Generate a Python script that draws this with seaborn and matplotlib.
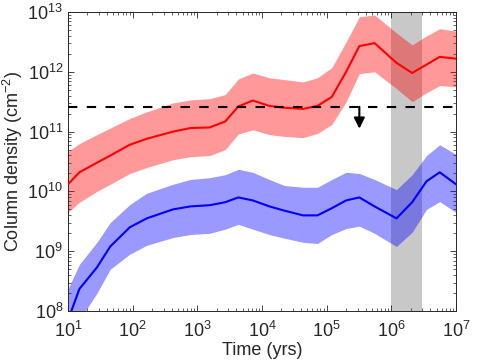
import numpy as np
import pandas as pd
import matplotlib
matplotlib.use("Agg")
import matplotlib.pyplot as plt
import seaborn as sns

# model times (yrs)
times = [10, 15, 28, 45, 90, 165, 420, 780, 1550, 2700, 4300, 7200, 13000, 22000,
         43000, 72000, 120000, 200000, 320000, 550000, 1.2e6, 2.1e6, 3.5e6, 5.6e6, 1e7]

# log10 column densities
red_mid = [10.12, 10.32, 10.48, 10.6, 10.78, 10.88, 11.0, 11.06, 11.07, 11.17, 11.42, 11.52, 11.43,
           11.40, 11.38, 11.43, 11.58, 12.0, 12.43, 12.48, 12.15, 11.98, 12.12, 12.25, 12.22]
red_hi = [10.67, 10.8, 10.95, 11.06, 11.22, 11.33, 11.48, 11.53, 11.55, 11.62, 11.88, 11.98, 11.9,
          11.87, 11.83, 11.9, 12.07, 12.5, 12.92, 12.95, 12.65, 12.45, 12.6, 12.72, 12.68]
red_lo = [9.65, 9.82, 10.0, 10.12, 10.3, 10.4, 10.53, 10.58, 10.6, 10.7, 10.96, 11.03, 10.95,
          10.92, 10.9, 10.97, 11.12, 11.5, 11.97, 12.0, 11.72, 11.5, 11.65, 11.77, 11.75]

blue_mid = [7.85, 8.37, 8.73, 9.08, 9.4, 9.55, 9.7, 9.75, 9.77, 9.82, 9.9, 9.85, 9.75,
            9.68, 9.6, 9.6, 9.72, 9.85, 9.9, 9.75, 9.55, 9.82, 10.17, 10.32, 10.12]
blue_hi = [8.37, 8.78, 9.15, 9.48, 9.78, 9.97, 10.12, 10.2, 10.23, 10.28, 10.37, 10.32, 10.2,
           10.1, 10.07, 10.07, 10.2, 10.32, 10.3, 10.2, 10.03, 10.28, 10.6, 10.78, 10.62]
blue_lo = [7.4, 7.85, 8.3, 8.7, 8.95, 9.1, 9.23, 9.28, 9.3, 9.37, 9.45, 9.37, 9.28,
           9.22, 9.15, 9.13, 9.28, 9.38, 9.42, 9.3, 9.08, 9.32, 9.7, 9.83, 9.65]

threshold = 2.6e11
arrow_time = 3.2e5
arrow_end = 1.12e11
shade_range = (1e6, 3e6)

sns.set_style("ticks")
plt.rcParams['font.family'] = ['Liberation Sans', 'DejaVu Sans']
plt.rcParams['mathtext.fontset'] = 'custom'
plt.rcParams['mathtext.rm'] = 'Liberation Sans'
plt.rcParams['mathtext.it'] = 'Liberation Sans:italic'

df = pd.DataFrame({
    'time': times,
    'red': 10 ** np.array(red_mid), 'red_hi': 10 ** np.array(red_hi), 'red_lo': 10 ** np.array(red_lo),
    'blue': 10 ** np.array(blue_mid), 'blue_hi': 10 ** np.array(blue_hi), 'blue_lo': 10 ** np.array(blue_lo),
})

fig, ax = plt.subplots(figsize=(4.79, 3.63), dpi=100)
fig.subplots_adjust(left=0.142, right=0.952, top=0.967, bottom=0.143)

# grey time window
ax.axvspan(*shade_range, color='#c8c8c8', lw=0, zorder=0)

# spread bands
ax.fill_between(df['time'], df['red_lo'], df['red_hi'], color='red', alpha=0.4, lw=0, zorder=1)
ax.fill_between(df['time'], df['blue_lo'], df['blue_hi'], color='blue', alpha=0.4, lw=0, zorder=1)

sns.lineplot(data=df, x='time', y='red', color='red', lw=1.5, ax=ax, zorder=3)
sns.lineplot(data=df, x='time', y='blue', color='blue', lw=1.5, ax=ax, zorder=3)

# upper limit
ax.axhline(threshold, color='black', ls=(0, (4.5, 4.5)), lw=1.5, zorder=4)
ax.annotate('', xy=(arrow_time, arrow_end), xytext=(arrow_time, threshold),
            arrowprops=dict(arrowstyle='-|>', color='black', lw=1.5, mutation_scale=16,
                            shrinkA=0, shrinkB=0), zorder=4)

ax.set_xscale('log')
ax.set_yscale('log')
ax.set_xlim(10, 1e7)
ax.set_ylim(1e8, 1e13)
ax.set_xticks([10 ** k for k in range(1, 8)])
ax.set_yticks([10 ** k for k in range(8, 14)])

ax.set_xlabel('Time (yrs)', fontsize=13, color='#262626', labelpad=1)
ax.set_ylabel('Column density (cm$^{-2}$)', fontsize=13, color='#262626', labelpad=2)

ax.tick_params(which='both', direction='in', top=True, right=True, colors='#262626', labelsize=13)
ax.tick_params(axis='x', which='major', pad=7)
ax.tick_params(which='major', length=4, width=0.6)
ax.tick_params(which='minor', length=2, width=0.5)
for s in ax.spines.values():
    s.set_visible(True)
    s.set_linewidth(0.7)
    s.set_color('#262626')

fig.savefig('out.png', dpi=100)
plt.close(fig)
